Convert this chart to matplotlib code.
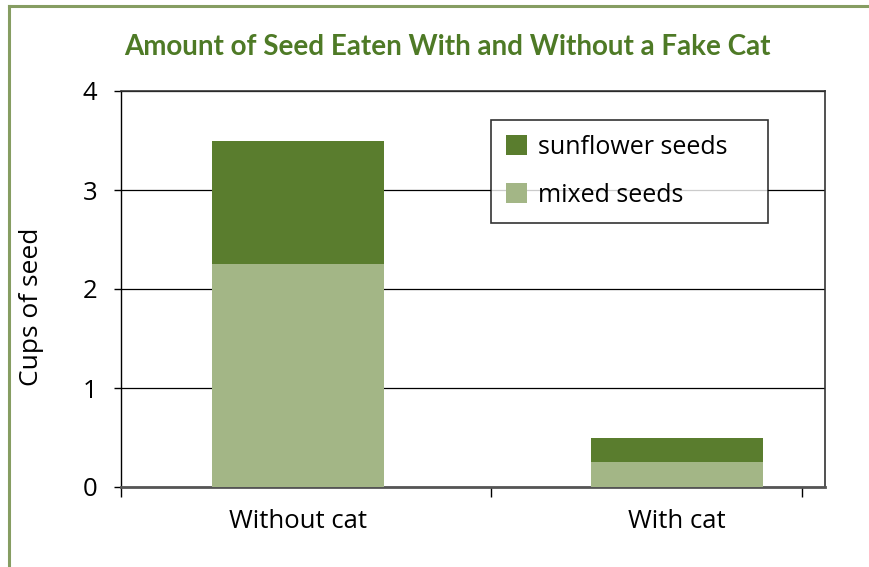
import matplotlib
matplotlib.use("Agg")
import matplotlib.pyplot as plt
from matplotlib.lines import Line2D

categories = ["Without cat", "With cat"]
mixed = [2.25, 0.25]
sunflower = [1.25, 0.25]
yticks = [0, 1, 2, 3, 4]

dark = "#5a7d2e"
light = "#a3b686"
FONT = "Open Sans"

fig = plt.figure(figsize=(8.7, 5.67), dpi=100)
W, H = 870, 567
ax = fig.add_axes([121 / W, 1 - 487 / H, (825 - 121) / W, (487 - 91) / H])
aw, ah = 825 - 121, 487 - 91

x = list(range(len(categories)))
bw = 0.454
ax.bar(x, mixed, width=bw, color=light, label="mixed seeds", zorder=3)
ax.bar(x, sunflower, width=bw, bottom=mixed, color=dark, label="sunflower seeds", zorder=3)

ax.set_xlim(-0.467, 1.39)
ax.set_ylim(0, 4)
ax.set_yticks(yticks)
ax.set_yticklabels([str(v) for v in yticks], fontsize=18.5, family=FONT)
ax.yaxis.grid(True, color="black", linewidth=0.9, zorder=0)
ax.tick_params(axis="y", length=5, width=1, color="black", pad=12)

ax.set_xticks(x)
ax.set_xticklabels(categories, fontsize=18.5, family=FONT)
ax.tick_params(axis="x", which="major", length=0, pad=16)
ax.set_xticks([-0.467, 0.509, 1.33], minor=True)
ax.tick_params(axis="x", which="minor", length=7, width=1, color="black", direction="out")

for s in ["top", "right"]:
    ax.spines[s].set_color("#333333")
    ax.spines[s].set_linewidth(1.2)
ax.spines["left"].set_color("black")
ax.spines["left"].set_linewidth(1.0)
ax.spines["bottom"].set_color("#555555")
ax.spines["bottom"].set_linewidth(2)

ax.set_ylabel("Cups of seed", fontsize=19, family=FONT)
ax.yaxis.set_label_coords((44 - 121) / aw, (487 - 307) / ah)

handles, labels = ax.get_legend_handles_labels()
leg = ax.legend(handles[::-1], labels[::-1], loc="upper left", mode="expand",
                bbox_to_anchor=((491 - 121) / aw, (487 - 120) / ah, (768 - 491) / aw, 0.0),
                prop={"family": FONT, "size": 18},
                frameon=True, fancybox=False, edgecolor="black",
                handlelength=0.85, handleheight=0.85, handletextpad=0.45,
                labelspacing=0.9, borderpad=0.6, borderaxespad=0)
leg.get_frame().set_linewidth(1.2)
leg.set_zorder(5)

fig.text(447 / W, 1 - 47 / H, "Amount of Seed Eaten With and Without a Fake Cat",
         ha="center", va="center", fontsize=20, fontweight="bold",
         color="#4e7a26", family="Lato")

border = "#869d62"
fig.add_artist(Line2D([9.5 / W, 9.5 / W], [0, 1 - 6 / H], color=border, lw=2.2, transform=fig.transFigure))
fig.add_artist(Line2D([9.5 / W, 1], [1 - 6 / H, 1 - 6 / H], color=border, lw=2.2, transform=fig.transFigure))

fig.savefig("out.png", dpi=100)
